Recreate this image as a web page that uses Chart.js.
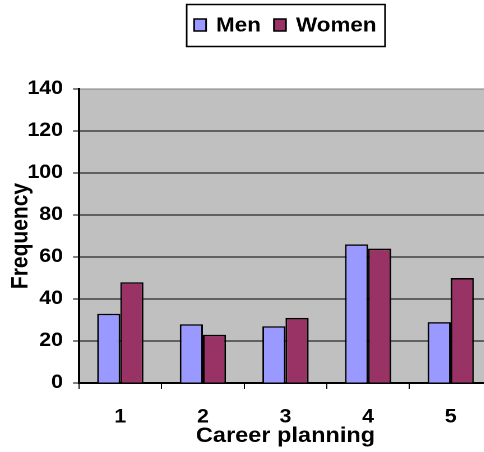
<!DOCTYPE html>
<html>
<head>
<meta charset="utf-8">
<script src="https://cdn.jsdelivr.net/npm/chart.js@4.4.0/dist/chart.umd.min.js"></script>
<style>
    html, body { margin: 0; padding: 0; background: #fff; overflow: hidden; }
    #careerChart { width: 500px; height: 452px; }
</style>
</head>
<body>
<canvas id="careerChart" width="446" height="452" style="width:500px;height:452px"></canvas>
<script>
// Career planning responses by gender
const categories = ['1', '2', '3', '4', '5'];
const menCounts = [33, 28, 27, 66, 29];
const womenCounts = [48, 23, 31, 64, 50];
const yTickValues = [0, 20, 40, 60, 80, 100, 120, 140];

const FONT = "'Liberation Sans', Arial, sans-serif";
// the canvas is drawn narrow and widened by css, which gives the broad lettering
const SX = 500 / 446;
const px = v => v / SX;

// grey plot area behind the bars
const plotBackground = {
    id: 'plotBackground',
    beforeDraw(chart) {
        const { ctx, chartArea: a } = chart;
        ctx.save();
        ctx.fillStyle = '#c0c0c0';
        ctx.fillRect(a.left, a.top, a.right - a.left, a.bottom - a.top);
        ctx.restore();
    }
};

// boxed legend above the plot
const boxedLegend = {
    id: 'boxedLegend',
    afterDraw(chart) {
        const { ctx, chartArea } = chart;
        const sqW = px(12), sqH = 12, gap = px(10), itemGap = px(13), pad = px(8), top = 4, h = 42;
        ctx.save();
        ctx.font = 'bold 20px ' + FONT;
        const items = chart.data.datasets.map(d => ({
            label: d.label,
            color: d.backgroundColor,
            w: ctx.measureText(d.label).width
        }));
        const total = pad * 2 + items.reduce((s, it) => s + sqW + gap + it.w, 0) + itemGap * (items.length - 1);
        const x0 = Math.round((chartArea.left + chartArea.right) / 2 - total / 2);

        ctx.lineWidth = 1.5;
        ctx.strokeStyle = '#000';
        ctx.strokeRect(x0 + 0.5, top + 0.5, total, h);

        const cy = top + h / 2;
        let x = x0 + pad;
        ctx.textBaseline = 'middle';
        items.forEach(it => {
            ctx.fillStyle = it.color;
            ctx.fillRect(x, cy - sqH / 2, sqW, sqH);
            ctx.strokeRect(x, cy - sqH / 2, sqW, sqH);
            ctx.fillStyle = '#000';
            ctx.fillText(it.label, x + sqW + gap, cy + 1);
            x += sqW + gap + it.w + itemGap;
        });
        ctx.restore();
    }
};

new Chart(document.getElementById('careerChart'), {
    type: 'bar',
    data: {
        labels: categories,
        datasets: [
            { label: 'Men', data: menCounts, backgroundColor: '#9999ff', borderColor: '#000', borderWidth: 1.5 },
            { label: 'Women', data: womenCounts, backgroundColor: '#993366', borderColor: '#000', borderWidth: 1.5 }
        ]
    },
    options: {
        responsive: false,
        devicePixelRatio: 2,
        animation: false,
        categoryPercentage: 0.56,
        barPercentage: 1,
        layout: { padding: { top: 89, right: px(8), left: 0, bottom: 0 } },
        plugins: {
            legend: { display: false },
            tooltip: { enabled: false }
        },
        scales: {
            x: {
                grid: { drawOnChartArea: false, color: '#000', tickLength: 6, lineWidth: 1 },
                border: { color: '#000', width: 2 },
                ticks: { color: '#000', padding: 17, font: { family: FONT, size: 19, weight: 'bold' } },
                title: {
                    display: true,
                    text: 'Career planning',
                    color: '#000',
                    font: { family: FONT, size: 21, weight: 'bold' },
                    padding: { top: 0, bottom: 3 }
                },
                afterFit(scale) { scale.height = 69; }
            },
            y: {
                min: 0,
                max: 140,
                grid: {
                    color: ctx => (ctx.tick && ctx.tick.value === 140 ? '#808080' : '#000'),
                    tickColor: '#000',
                    tickLength: px(6),
                    lineWidth: 1
                },
                border: { color: '#000', width: 2 },
                afterBuildTicks(scale) { scale.ticks = yTickValues.map(v => ({ value: v })); },
                ticks: { color: '#000', padding: px(10), font: { family: FONT, size: 19, weight: 'bold' } },
                title: {
                    display: true,
                    text: 'Frequency',
                    color: '#000',
                    font: { family: FONT, size: 21, weight: 'bold' },
                    padding: { top: px(21) - 12.6, bottom: 0 }
                },
                afterFit(scale) { scale.width = px(79); }
            }
        }
    },
    plugins: [plotBackground, boxedLegend]
});
</script>
</body>
</html>
